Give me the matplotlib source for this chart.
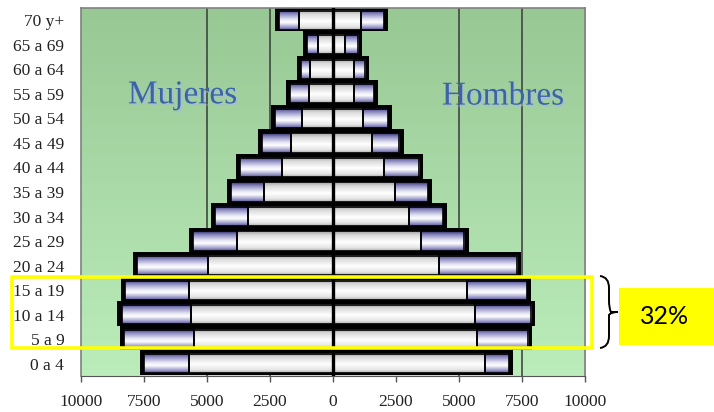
import numpy as np
import matplotlib
matplotlib.use('Agg')
import matplotlib.pyplot as plt
import matplotlib.patheffects as pe
from matplotlib.colors import LinearSegmentedColormap
from matplotlib.patches import Rectangle, PathPatch
from matplotlib.path import Path

# age groups, bottom to top
ages = ['0 a 4', '5 a 9', '10 a 14', '15 a 19', '20 a 24', '25 a 29', '30 a 34',
        '35 a 39', '40 a 44', '45 a 49', '50 a 54', '55 a 59', '60 a 64',
        '65 a 69', '70 y+']

# women: inner (light) segment and outer (purple) segment
mujeres_1 = [5700, 5510, 5640, 5700, 4980, 3810, 3370, 2740, 2030, 1670, 1230, 950, 910, 600, 1350]
mujeres_2 = [1790, 2780, 2750, 2550, 2780, 1740, 1310, 1310, 1660, 1150, 1070, 750, 360, 430, 790]

# men: inner (light) segment and outer (purple) segment
hombres_1 = [6030, 5710, 5630, 5320, 4200, 3490, 3020, 2460, 2020, 1540, 1190, 830, 830, 480, 1110]
hombres_2 = [950, 2030, 2230, 2380, 3100, 1720, 1330, 1300, 1400, 1090, 980, 790, 440, 520, 910]

xticks = [-10000, -7500, -5000, -2500, 0, 2500, 5000, 7500, 10000]
xticklabels = ['10000', '7500', '5000', '2500', '0', '2500', '5000', '7500', '10000']

serif = 'Liberation Serif'

# colour ramps (top -> bottom of each bar, cylinder look)
cm_purple = LinearSegmentedColormap.from_list('purple', [
    (0.0, '#2f2d68'), (0.15, '#7f7db8'), (0.45, '#e2e2f2'), (0.62, '#ffffff'),
    (0.85, '#a3a2cf'), (1.0, '#555393')])
cm_white = LinearSegmentedColormap.from_list('white', [
    (0.0, '#a0a0a0'), (0.2, '#dadada'), (0.55, '#ffffff'),
    (0.85, '#e4e4e4'), (1.0, '#ababab')])
cm_green = LinearSegmentedColormap.from_list('green', ['#98c894', '#bbedbb'])
grad = np.linspace(0, 1, 64).reshape(-1, 1)

fig = plt.figure(figsize=[7.14, 4.12], dpi=100, facecolor='white')
ax = fig.add_axes([81/714, 1-376/412, 504/714, 368/412])

# background
ax.imshow(grad, extent=[-10000, 10000, -0.5, 14.5], aspect='auto', cmap=cm_green, zorder=0)
for gx in [-5000, -2500, 5000, 7500]:
    ax.axvline(gx, color='#3a3a3a', lw=1.1, zorder=1)

h = 0.78
ypos = np.arange(len(ages))
for side, s1, s2 in [(-1, mujeres_1, mujeres_2), (1, hombres_1, hombres_2)]:
    for y, a, b in zip(ypos, s1, s2):
        tot = a + b
        # dark shadow behind the bar
        x0, x1 = sorted([0, side*(tot+170)])
        ax.add_patch(Rectangle((x0, y-h/2-0.06), x1-x0, h+0.22, fc='black', ec='none', zorder=2))
        # inner light segment
        x0, x1 = sorted([0, side*a])
        ax.imshow(grad, extent=[x0, x1, y-h/2, y+h/2], aspect='auto', cmap=cm_white, zorder=3)
        ax.add_patch(Rectangle((x0, y-h/2), x1-x0, h, fc='none', ec='black', lw=1.2, zorder=4))
        # outer purple segment
        x0, x1 = sorted([side*a, side*tot])
        ax.imshow(grad, extent=[x0, x1, y-h/2, y+h/2], aspect='auto', cmap=cm_purple, zorder=3)
        ax.add_patch(Rectangle((x0, y-h/2), x1-x0, h, fc='none', ec='black', lw=1.2, zorder=4))

ax.axvline(0, color='black', lw=2.4, zorder=5)

ax.set_xlim(-10000, 10000)
ax.set_ylim(-0.5, 14.5)
ax.set_yticks(ypos)
ax.set_yticklabels(ages, fontfamily=serif, fontsize=12.5, color='#222222')
ax.set_xticks(xticks)
ax.set_xticklabels(xticklabels, fontfamily=serif, fontsize=12.5, color='#222222')
ax.tick_params(axis='y', length=0, pad=12)
ax.tick_params(axis='x', length=4, width=1, color='#555555', direction='out', pad=9)
for sp in ['top', 'right', 'left']:
    ax.spines[sp].set_color('#808080')
    ax.spines[sp].set_linewidth(1.2)
ax.spines['bottom'].set_color('#555555')

shadow = [pe.withSimplePatchShadow(offset=(1.5, -1.5), shadow_rgbFace='#a8b8e0', alpha=0.7)]
ax.text(-5970, 10.95, 'Mujeres', fontfamily=serif, fontsize=24, color='#3a64a6',
        ha='center', va='center', zorder=6, path_effects=shadow)
ax.text(6750, 10.9, 'Hombres', fontfamily=serif, fontsize=24, color='#3a64a6',
        ha='center', va='center', zorder=6, path_effects=shadow)

# overlay in pixel units for the highlight
ov = fig.add_axes([0, 0, 1, 1], facecolor='none')
ov.set_xlim(0, 714)
ov.set_ylim(412, 0)
ov.axis('off')
ov.add_patch(Rectangle((12, 277), 580, 71, fc='none', ec='#ffff00', lw=2.6))
ov.add_patch(Rectangle((619, 288), 95, 57, fc='#ffff00', ec='none'))
ov.text(665, 317, '32%', fontfamily='Lato', fontsize=18, color='black', ha='center', va='center')
verts = [(600, 276), (609, 277), (609, 288), (609, 300),
         (609, 309), (611, 312), (618, 312),
         (611, 312), (609, 315), (609, 324),
         (609, 336), (609, 347), (600, 348)]
codes = [Path.MOVETO, Path.CURVE3, Path.CURVE3, Path.LINETO,
         Path.CURVE3, Path.CURVE3, Path.LINETO,
         Path.CURVE3, Path.CURVE3, Path.LINETO,
         Path.LINETO, Path.CURVE3, Path.CURVE3]
ov.add_patch(PathPatch(Path(verts, codes), fc='none', ec='black', lw=1.4))

fig.savefig('out.png', dpi=100, facecolor='white')
